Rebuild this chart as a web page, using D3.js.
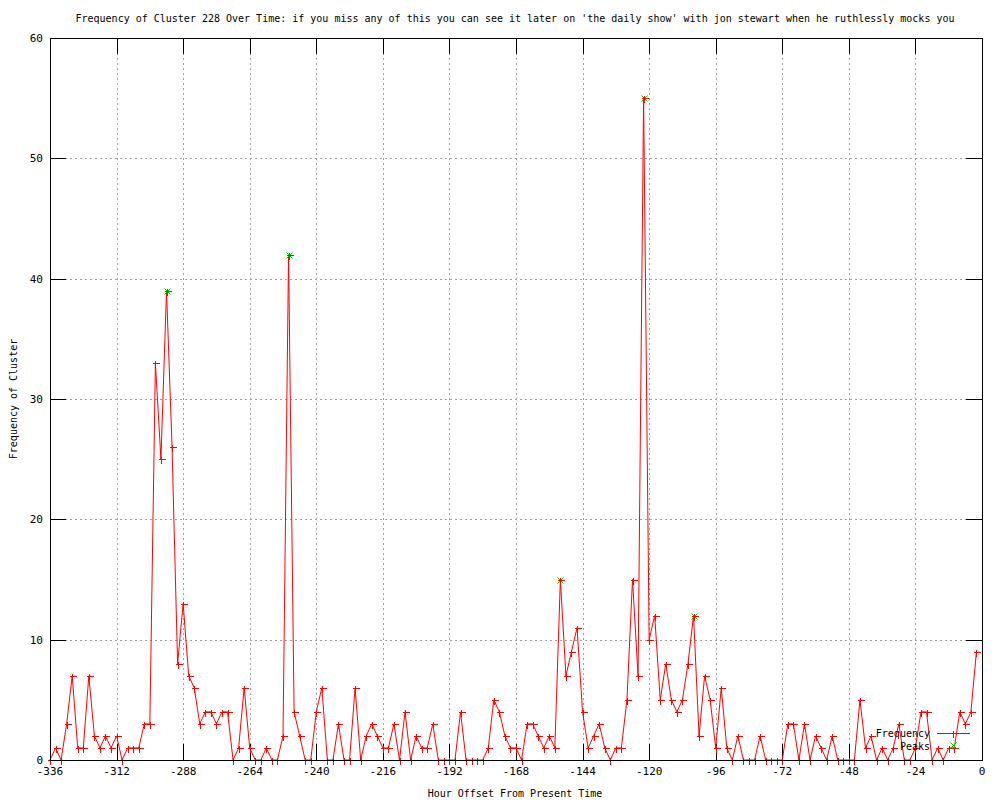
<!DOCTYPE html>
<html>
<head>
<meta charset="utf-8">
<script src="https://cdn.jsdelivr.net/npm/d3@7"></script>
<style>
  body { margin: 0; background: #fff; }
  text { font-family: "DejaVu Sans Mono", monospace; fill: #000; }
</style>
</head>
<body>
<script>
// hourly buckets, 2h apart, from -336 to -2
const hours = d3.range(-336, 0, 2);
const frequency = [
  0, 1, 0, 3, 7, 1, 1, 7, 2, 1, 2, 1, 2, 0, 1, 1, 1, 3, 3, 33,
  25, 39, 26, 8, 13, 7, 6, 3, 4, 4, 3, 4, 4, 0, 1, 6, 1, 0, 0, 1,
  0, 0, 2, 42, 4, 2, 0, 0, 4, 6, 0, 0, 3, 0, 0, 6, 0, 2, 3, 2,
  1, 1, 3, 0, 4, 0, 2, 1, 1, 3, 0, 0, 0, 0, 4, 0, 0, 0, 0, 1,
  5, 4, 2, 1, 1, 0, 3, 3, 2, 1, 2, 1, 15, 7, 9, 11, 4, 1, 2, 3,
  1, 0, 1, 1, 5, 15, 7, 55, 10, 12, 5, 8, 5, 4, 5, 8, 12, 2, 7, 5,
  1, 6, 1, 0, 2, 0, 0, 0, 2, 0, 0, 0, 0, 3, 3, 0, 3, 0, 2, 1,
  0, 2, 0, 0, 0, 0, 5, 1, 2, 0, 1, 0, 1, 3, 0, 0, 1, 4, 4, 0,
  1, 0, 1, 1, 4, 3, 4, 9
];
const peakHours = [-294, -250, -152, -122, -104];
const peakValues = [39, 42, 15, 55, 12];

const xTicks = d3.range(-336, 1, 24);
const yTicks = [0, 10, 20, 30, 40, 50, 60];

const titleText = "Frequency of Cluster 228 Over Time: if you miss any of this you can see it later on 'the daily show' with jon stewart when he ruthlessly mocks you";
const xLabel = 'Hour Offset From Present Time';
const yLabel = 'Frequency of Cluster';
const legendNames = ['Frequency', 'Peaks'];

const width = 1000;
const height = 800;
const margin = { top: 38, right: 18, bottom: 40, left: 50 };

const x = d3.scaleLinear().domain([-336, 0]).range([margin.left, width - margin.right]);
const y = d3.scaleLinear().domain([0, 60]).range([height - margin.bottom, margin.top]);

const svg = d3.select('body').append('svg')
  .attr('width', width)
  .attr('height', height);

const tickLen = 16;

// grid
const grid = svg.append('g')
  .attr('stroke', '#a0a0a0')
  .attr('stroke-dasharray', '2,3')
  .attr('shape-rendering', 'crispEdges');
grid.selectAll('.gx').data(xTicks.slice(1, -1)).join('line')
  .attr('x1', (d) => Math.round(x(d)) + 0.5).attr('x2', (d) => Math.round(x(d)) + 0.5)
  .attr('y1', y(0)).attr('y2', y(60));
grid.selectAll('.gy').data(yTicks.slice(1, -1)).join('line')
  .attr('x1', x(-336)).attr('x2', x(0))
  .attr('y1', (d) => Math.round(y(d)) + 0.5).attr('y2', (d) => Math.round(y(d)) + 0.5);

// ticks (mirrored on all four sides)
const ticks = svg.append('g').attr('stroke', '#000').attr('shape-rendering', 'crispEdges');
xTicks.forEach((t) => {
  const px = Math.round(x(t)) + 0.5;
  ticks.append('line').attr('x1', px).attr('x2', px).attr('y1', y(0)).attr('y2', y(0) - tickLen);
  ticks.append('line').attr('x1', px).attr('x2', px).attr('y1', y(60)).attr('y2', y(60) + tickLen);
});
yTicks.forEach((t) => {
  const py = Math.round(y(t)) + 0.5;
  ticks.append('line').attr('x1', x(-336)).attr('x2', x(-336) + tickLen).attr('y1', py).attr('y2', py);
  ticks.append('line').attr('x1', x(0)).attr('x2', x(0) - tickLen).attr('y1', py).attr('y2', py);
});

// tick labels
svg.append('g').selectAll('text').data(xTicks).join('text')
  .attr('x', (d) => x(d))
  .attr('y', y(0) + 15)
  .attr('text-anchor', 'middle')
  .attr('font-size', 11)
  .text((d) => d);
svg.append('g').selectAll('text').data(yTicks).join('text')
  .attr('x', x(-336) - 7)
  .attr('y', (d) => y(d))
  .attr('dy', '0.35em')
  .attr('text-anchor', 'end')
  .attr('font-size', 11)
  .text((d) => d);

// data line
const line = d3.line().x((d, i) => x(hours[i])).y((d) => y(d));
svg.append('path')
  .datum(frequency)
  .attr('d', line)
  .attr('fill', 'none')
  .attr('stroke', '#ff0000')
  .attr('stroke-width', 1);

const plus = (g, cx, cy, color) => {
  g.append('path')
    .attr('d', `M${cx - 3},${cy}H${cx + 4}M${cx},${cy - 3}V${cy + 4}`)
    .attr('stroke', color)
    .attr('shape-rendering', 'crispEdges');
};
const cross = (g, cx, cy, color) => {
  g.append('path')
    .attr('d', `M${cx - 3},${cy - 3}L${cx + 3},${cy + 3}M${cx - 3},${cy + 3}L${cx + 3},${cy - 3}`)
    .attr('stroke', color);
};

// peaks under the red pluses
const marks = svg.append('g');
peakValues.forEach((v, i) => cross(marks, Math.round(x(peakHours[i])) + 0.5, Math.round(y(v)) + 0.5, '#00c000'));
frequency.forEach((v, i) => plus(marks, Math.round(x(hours[i])) + 0.5, Math.round(y(v)) + 0.5, '#ff0000'));

// frame
svg.append('rect')
  .attr('x', x(-336) + 0.5).attr('y', y(60) + 0.5)
  .attr('width', x(0) - x(-336)).attr('height', y(0) - y(60))
  .attr('fill', 'none').attr('stroke', '#000')
  .attr('shape-rendering', 'crispEdges');

// legend
const legend = svg.append('g');
legend.append('text').attr('x', 930).attr('y', 733).attr('dy', '0.35em')
  .attr('text-anchor', 'end').attr('font-size', 10).text(legendNames[0]);
legend.append('line').attr('x1', 937).attr('x2', 970).attr('y1', 733.5).attr('y2', 733.5)
  .attr('stroke', '#ff0000').attr('shape-rendering', 'crispEdges');
plus(legend, 953.5, 733.5, '#ff0000');
legend.append('text').attr('x', 930).attr('y', 746).attr('dy', '0.35em')
  .attr('text-anchor', 'end').attr('font-size', 10).text(legendNames[1]);
cross(legend, 953.5, 745.5, '#00c000');

// titles
svg.append('text').attr('x', 515).attr('y', 18).attr('dy', '0.35em')
  .attr('text-anchor', 'middle').attr('font-size', 10).text(titleText);
svg.append('text').attr('x', 515).attr('y', 793).attr('dy', '0.35em')
  .attr('text-anchor', 'middle').attr('font-size', 10).text(xLabel);
svg.append('text')
  .attr('transform', `translate(13,${(y(0) + y(60)) / 2}) rotate(-90)`)
  .attr('dy', '0.35em')
  .attr('text-anchor', 'middle').attr('font-size', 10).text(yLabel);
</script>
</body>
</html>
